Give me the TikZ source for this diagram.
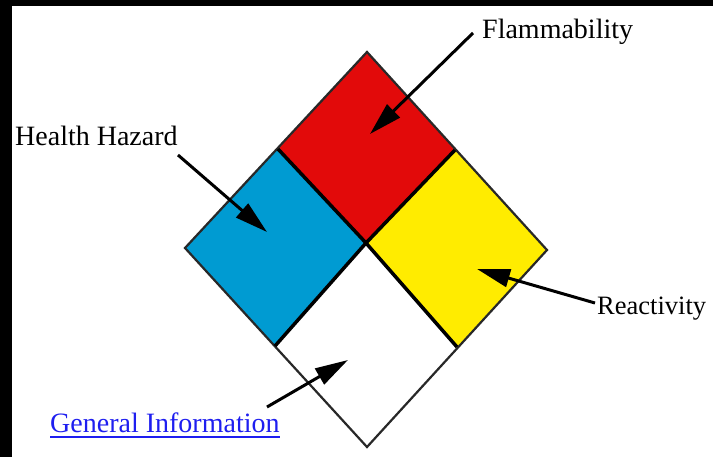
\documentclass[tikz,border=0pt]{standalone}
\usepackage{fontspec}
\setmainfont{Liberation Serif}
\usetikzlibrary{arrows.meta}
\definecolor{hzred}{RGB}{226,10,10}
\definecolor{hzblue}{RGB}{0,155,210}
\definecolor{hzyellow}{RGB}{255,236,0}
\definecolor{linkblue}{RGB}{30,30,240}
\definecolor{edgegray}{RGB}{40,40,40}
\begin{document}
\begin{tikzpicture}[x=1pt,y=-1pt,
  outeredge/.style={draw=edgegray,line width=2.2pt,line join=miter},
  inneredge/.style={draw=black,line width=3.5pt},
  pointer/.style={draw=black,line width=3pt,-{Triangle[length=33pt,width=18pt]}},
  lbl/.style={inner sep=0pt,anchor=base west,font=\fontsize{28}{33}\selectfont},
]
\useasboundingbox (0,0) rectangle (713,457);
\fill[black] (0,0) rectangle (713,457);
\fill[white] (12,6) rectangle (713,457);
% diamond corners
\coordinate (T) at (367,52);
\coordinate (L) at (185,248);
\coordinate (R) at (547,250);
\coordinate (B) at (367,447);
\coordinate (C) at (366,243);
\coordinate (mTL) at (278,149);
\coordinate (mTR) at (455,150);
\coordinate (mBL) at (275,346);
\coordinate (mBR) at (457,347);
% quadrants
\fill[hzred] (T) -- (mTR) -- (C) -- (mTL) -- cycle;
\fill[hzblue] (mTL) -- (C) -- (mBL) -- (L) -- cycle;
\fill[hzyellow] (mTR) -- (R) -- (mBR) -- (C) -- cycle;
\fill[white] (C) -- (mBR) -- (B) -- (mBL) -- cycle;
\draw[outeredge] (T) -- (R) -- (B) -- (L) -- cycle;
\draw[inneredge] (mTL) -- (C) -- (mBR);
\draw[inneredge] (mTR) -- (C) -- (mBL);
% labels
\node[lbl] (hh) at (15,146) {Health Hazard};
\node[lbl] (fl) at (482,39) {Flammability};
\node[lbl,font=\fontsize{26.5}{32}\selectfont] (re) at (597,315) {Reactivity};
\node[lbl,text=linkblue] (gi) at (50,432) {General Information};
\draw[linkblue,line width=1.5pt] ([yshift=-5pt]gi.base west) -- ([yshift=-5pt]gi.base east);
% arrow ends
\coordinate (hhs) at (178,155);
\coordinate (hht) at (267,232);
\coordinate (fls) at (473,33);
\coordinate (flt) at (370,134);
\coordinate (res) at (595,303);
\coordinate (ret) at (477,269);
\coordinate (gis) at (267,407);
\coordinate (git) at (348,360);
\draw[pointer] (hhs) -- (hht);
\draw[pointer] (fls) -- (flt);
\draw[pointer] (res) -- (ret);
\draw[pointer] (gis) -- (git);
\end{tikzpicture}
\end{document}
